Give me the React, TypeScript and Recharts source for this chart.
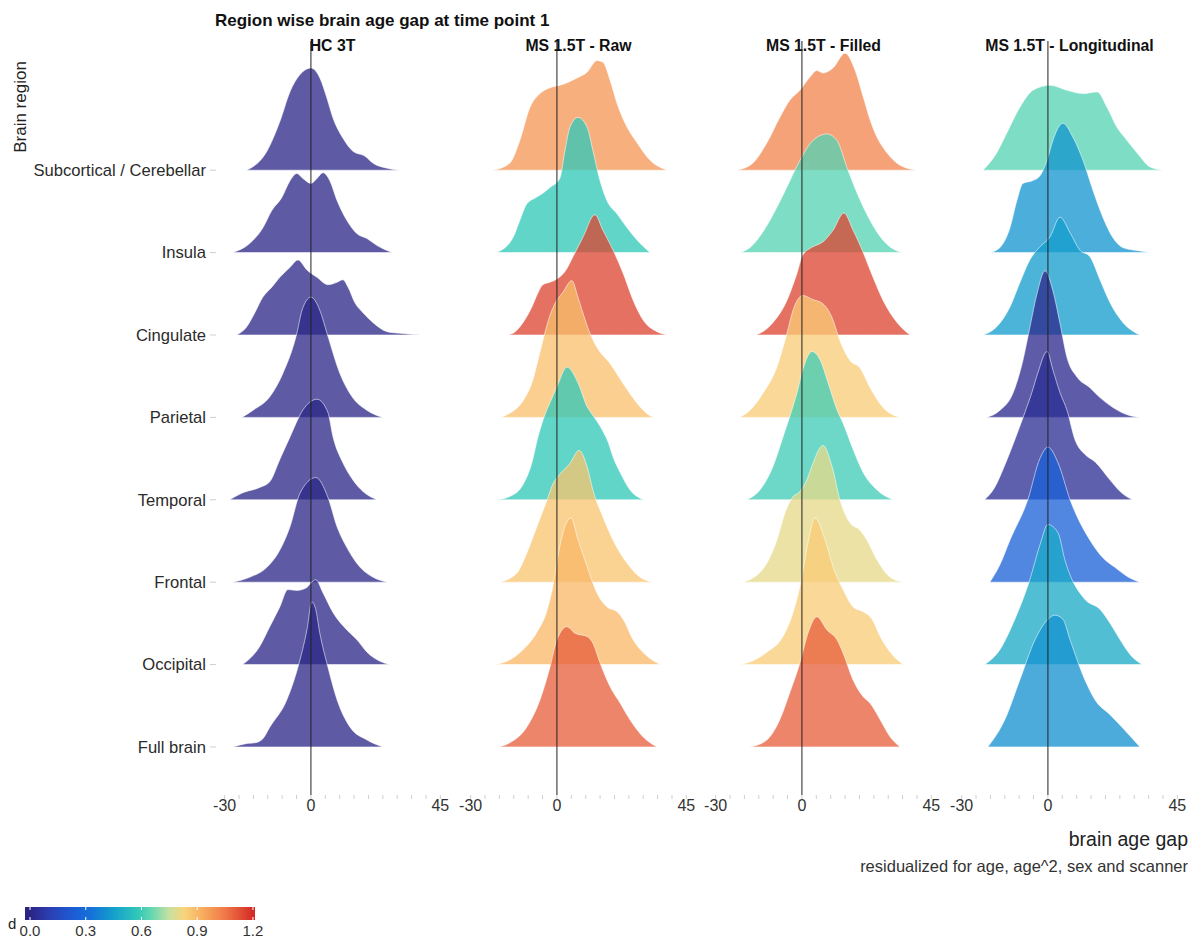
import React from 'react';
import { ComposedChart, Area, XAxis, YAxis, ReferenceLine } from 'recharts';

// ---------- data ----------
const regions = [
  'Subcortical / Cerebellar',
  'Insula',
  'Cingulate',
  'Parietal',
  'Temporal',
  'Frontal',
  'Occipital',
  'Full brain',
];

const facets = ['HC 3T', 'MS 1.5T - Raw', 'MS 1.5T - Filled', 'MS 1.5T - Longitudinal'];

// effect size d per region (top to bottom)
const dHC = [0.01, 0.01, 0.01, 0.01, 0.01, 0.01, 0.01, 0.01];
const dRaw = [0.98, 0.58, 1.15, 0.88, 0.58, 0.87, 0.9, 1.1];
const dFilled = [1.02, 0.63, 1.15, 0.85, 0.6, 0.8, 0.85, 1.1];
const dLong = [0.63, 0.42, 0.44, 0.02, 0.04, 0.25, 0.48, 0.41];

type Pt = [number, number]; // [brain age gap, ridge height]

const hcRidges: Pt[][] = [
  [[-22.3, 0], [-15.3, 0.23], [-10.8, 0.59], [-7.3, 0.95], [-3.8, 1.16], [0, 1.24], [3.1, 1.12], [5.6, 0.87], [7.7, 0.63], [11.1, 0.39], [14.6, 0.23], [18.8, 0.17], [21.6, 0.085], [26.5, 0.024], [31, 0]],
  [[-27.2, 0], [-21.3, 0.11], [-16.7, 0.3], [-13.6, 0.51], [-10.1, 0.67], [-7.3, 0.87], [-4.9, 0.96], [-2.8, 0.9], [0, 0.84], [2.1, 0.9], [4.2, 0.97], [6.6, 0.87], [9.1, 0.63], [12.5, 0.39], [16, 0.23], [19.5, 0.17], [23, 0.085], [28.2, 0]],
  [[-25.8, 0], [-22.3, 0.1], [-19.5, 0.27], [-16.7, 0.46], [-13.6, 0.58], [-10.8, 0.7], [-7.3, 0.82], [-4.5, 0.91], [-1.4, 0.79], [2.1, 0.7], [5.9, 0.61], [9.1, 0.64], [11.1, 0.67], [12.9, 0.58], [15.3, 0.39], [18.1, 0.27], [21.6, 0.15], [26.5, 0.04], [31, 0.02], [38, 0]],
  [[-24, 0], [-20.2, 0.085], [-14.3, 0.25], [-9.8, 0.53], [-4.9, 1.02], [-3.1, 1.3], [0, 1.46], [3.1, 1.3], [5.6, 1.02], [10.1, 0.53], [14.3, 0.25], [19.5, 0.085], [25, 0]],
  [[-28.2, 0], [-23.7, 0.085], [-17.8, 0.15], [-14.3, 0.22], [-10.8, 0.49], [-7.3, 0.76], [-2.8, 1.09], [2.1, 1.22], [5.9, 1.06], [7.7, 0.76], [11.1, 0.45], [14.6, 0.24], [18.1, 0.1], [23, 0]],
  [[-27.2, 0], [-21.3, 0.06], [-15.3, 0.18], [-10.8, 0.39], [-7.3, 0.67], [-3.8, 1.08], [1.7, 1.27], [5.9, 1.03], [9.1, 0.67], [12.5, 0.42], [17.1, 0.18], [21.6, 0.06], [26.5, 0]],
  [[-23.7, 0], [-17.8, 0.22], [-14.3, 0.46], [-10.8, 0.7], [-8.0, 0.91], [-4.9, 0.9], [-1.7, 0.93], [1.7, 1.03], [4.2, 0.87], [7.7, 0.63], [12.5, 0.42], [16, 0.3], [19.5, 0.15], [24, 0.04], [27.5, 0]],
  [[-27.2, 0], [-22.6, 0.04], [-19.5, 0.05], [-16.7, 0.1], [-14.3, 0.24], [-8.4, 0.57], [-4.5, 0.97], [-1.4, 1.42], [0.3, 1.76], [1.6, 1.68], [3.1, 1.38], [5.9, 0.97], [9.1, 0.57], [13.6, 0.24], [19.5, 0.085], [25, 0]],
];

const rawRidges: Pt[][] = [
  [[-22.3, 0], [-16.4, 0.085], [-12.9, 0.36], [-9.4, 0.76], [-5.9, 0.93], [-2.4, 1.0], [1.0, 1.03], [7.0, 1.12], [10.5, 1.19], [13.9, 1.33], [16.0, 1.31], [18.5, 1.09], [20.9, 0.81], [24.4, 0.52], [27.9, 0.33], [32.4, 0.12], [38.3, 0]],
  [[-21, 0], [-15.3, 0.18], [-12.9, 0.39], [-10.5, 0.59], [-7.7, 0.66], [-4.9, 0.72], [-2.4, 0.79], [1.0, 0.9], [2.8, 1.24], [4.5, 1.52], [7.3, 1.64], [10.5, 1.52], [12.5, 1.24], [15, 0.87], [17.4, 0.63], [20.9, 0.47], [24.4, 0.3], [27.9, 0.15], [32.4, 0]],
  [[-17, 0], [-15.3, 0.02], [-11.8, 0.15], [-8.7, 0.34], [-6.6, 0.51], [-4.9, 0.61], [-2.4, 0.64], [0, 0.68], [2.8, 0.77], [5.6, 0.95], [9.1, 1.19], [13.2, 1.46], [16, 1.27], [19.5, 1.03], [23, 0.75], [26.5, 0.42], [30, 0.18], [34.8, 0.04], [38.3, 0]],
  [[-19.5, 0], [-16.4, 0.05], [-11.8, 0.2], [-8.4, 0.45], [-6.6, 0.69], [-4.9, 0.93], [-2.4, 1.24], [-0.7, 1.38], [2.1, 1.52], [5.2, 1.66], [7.3, 1.46], [9.1, 1.26], [11.5, 1.02], [13.9, 0.85], [18.5, 0.65], [23, 0.41], [27.9, 0.17], [32.4, 0.02], [34, 0]],
  [[-20.9, 0], [-16.4, 0.04], [-12.2, 0.16], [-8.7, 0.45], [-6.6, 0.76], [-4.2, 1.03], [-2.4, 1.18], [0, 1.37], [3.5, 1.61], [7.3, 1.42], [10.5, 1.13], [12.2, 1.04], [15.7, 0.85], [17.8, 0.7], [19.5, 0.52], [22, 0.33], [25.4, 0.12], [28.9, 0.02], [30.5, 0]],
  [[-19.9, 0], [-13.9, 0.11], [-10.5, 0.35], [-7.0, 0.67], [-3.5, 0.99], [-1.4, 1.19], [1.0, 1.31], [4.5, 1.44], [7.7, 1.6], [10.5, 1.4], [12.5, 1.12], [16, 0.79], [19.5, 0.51], [24.4, 0.23], [28.9, 0.06], [33.4, 0]],
  [[-21.9, 0], [-17.4, 0.04], [-11.8, 0.18], [-7.0, 0.39], [-3.5, 0.65], [-1.4, 0.95], [0.3, 1.31], [2.1, 1.6], [4.9, 1.78], [7.3, 1.52], [10.5, 1.19], [13.9, 0.87], [17.4, 0.7], [20.9, 0.64], [23, 0.55], [26.5, 0.3], [31.4, 0.1], [35.9, 0]],
  [[-19.9, 0], [-16.4, 0.05], [-10.5, 0.24], [-5.9, 0.57], [-2.4, 0.97], [0, 1.3], [3.5, 1.46], [6.3, 1.38], [10.5, 1.34], [12.5, 1.26], [15, 1.02], [18.5, 0.73], [22, 0.53], [25.4, 0.33], [30, 0.12], [34.8, 0]],
];

const filledRidges: Pt[][] = [
  [[-22.6, 0], [-17.1, 0.085], [-12.2, 0.33], [-7.7, 0.64], [-4.2, 0.85], [-0.7, 0.97], [2.8, 1.13], [5.2, 1.21], [7.3, 1.18], [10.8, 1.24], [15, 1.42], [18.5, 1.21], [21.3, 0.89], [23.7, 0.61], [26.1, 0.4], [29.6, 0.21], [34.1, 0.06], [40, 0]],
  [[-21.6, 0], [-18.1, 0.06], [-13.2, 0.27], [-8.7, 0.55], [-4.2, 0.87], [-0.7, 1.12], [3.8, 1.36], [8.7, 1.44], [12.2, 1.36], [15.7, 1.03], [19.2, 0.72], [23.7, 0.39], [28.2, 0.15], [33.1, 0.02], [36, 0]],
  [[-16, 0], [-13.6, 0.04], [-10.1, 0.15], [-5.2, 0.42], [-1.7, 0.75], [0.3, 0.97], [3.8, 1.07], [7.3, 1.13], [10.8, 1.27], [14.6, 1.48], [17.8, 1.27], [21.3, 1.0], [24.7, 0.7], [28.2, 0.42], [33.1, 0.15], [37.6, 0]],
  [[-21.6, 0], [-18.1, 0.085], [-13.6, 0.29], [-8.7, 0.61], [-5.2, 1.02], [-3.1, 1.3], [0.3, 1.48], [3.8, 1.43], [7.3, 1.38], [10.5, 1.21], [13.2, 0.93], [16.7, 0.69], [20.2, 0.6], [23.7, 0.36], [28.2, 0.12], [34.1, 0]],
  [[-19.2, 0], [-14.6, 0.12], [-10.1, 0.4], [-6.6, 0.76], [-3.5, 1.09], [-1.7, 1.3], [0.3, 1.58], [3.5, 1.8], [6.3, 1.7], [9.1, 1.42], [12.2, 1.09], [14.3, 0.93], [17.8, 0.61], [21.3, 0.33], [26.1, 0.12], [31.7, 0]],
  [[-20.6, 0], [-17.1, 0.05], [-12.2, 0.23], [-8.7, 0.51], [-5.9, 0.84], [-3.5, 1.02], [-0.7, 1.1], [1.7, 1.24], [3.8, 1.44], [7.3, 1.66], [10.5, 1.4], [13.2, 1.0], [16.7, 0.72], [20.2, 0.63], [22.6, 0.51], [26.1, 0.27], [30.7, 0.06], [35.2, 0]],
  [[-21.6, 0], [-18.1, 0.03], [-12.2, 0.15], [-6.6, 0.34], [-3.1, 0.63], [-0.7, 0.95], [1.0, 1.27], [2.8, 1.6], [4.5, 1.78], [8.0, 1.52], [10.8, 1.19], [14.3, 0.91], [17.8, 0.7], [21.3, 0.64], [24.4, 0.55], [27.2, 0.34], [30.7, 0.15], [35.2, 0]],
  [[-18.1, 0], [-12.2, 0.085], [-7.7, 0.33], [-4.2, 0.66], [-0.7, 1.02], [2.1, 1.38], [5.2, 1.58], [8.7, 1.42], [12.2, 1.3], [14.3, 1.14], [17.8, 0.81], [21.3, 0.61], [23.7, 0.53], [27.2, 0.33], [30.7, 0.12], [34.1, 0]],
];

const longRidges: Pt[][] = [
  [[-22.6, 0], [-17.8, 0.21], [-14.3, 0.45], [-9.8, 0.76], [-5.2, 0.97], [0.7, 1.03], [6.6, 0.97], [12.2, 0.93], [17.1, 0.95], [20.6, 0.76], [24, 0.52], [27.5, 0.36], [31, 0.21], [35.5, 0.04], [40, 0]],
  [[-20.2, 0], [-16.7, 0.06], [-13.2, 0.3], [-10.8, 0.63], [-8.7, 0.84], [-5.6, 0.87], [-2.8, 0.93], [-0.3, 1.12], [1.7, 1.36], [5.2, 1.57], [8.7, 1.4], [12.2, 1.12], [15.7, 0.75], [19.2, 0.42], [22.6, 0.18], [26.1, 0.06], [32, 0.02], [35.5, 0]],
  [[-22.6, 0], [-17.8, 0.1], [-13.2, 0.34], [-9.8, 0.63], [-6.3, 0.91], [-2.8, 1.07], [0.7, 1.19], [4.2, 1.43], [7.7, 1.24], [11.1, 1.03], [14.6, 0.95], [18.1, 0.67], [21.6, 0.39], [26.1, 0.15], [32, 0]],
  [[-21.3, 0], [-16.7, 0.085], [-12.2, 0.29], [-8.7, 0.69], [-6.3, 1.09], [-3.8, 1.5], [-1.0, 1.78], [1.7, 1.54], [4.2, 1.14], [6.6, 0.73], [10.1, 0.49], [14.6, 0.36], [18.1, 0.24], [22.6, 0.12], [28.6, 0.02], [32, 0]],
  [[-22, 0], [-18.5, 0.15], [-15, 0.42], [-11.5, 0.73], [-8, 1.06], [-5.6, 1.3], [-3.5, 1.54], [-0.3, 1.8], [1.7, 1.58], [4.2, 1.3], [6.6, 1.09], [9.4, 0.73], [12.9, 0.55], [16.4, 0.46], [21.6, 0.24], [25.1, 0.1], [29.3, 0]],
  [[-20.2, 0], [-16.7, 0.21], [-13.2, 0.51], [-7, 1.0], [-2.8, 1.5], [0, 1.64], [3.5, 1.45], [7.7, 1.0], [14.6, 0.51], [19, 0.3], [23.3, 0.18], [28, 0.06], [32, 0]],
  [[-22, 0], [-16.7, 0.18], [-11.5, 0.55], [-6.3, 1.03], [-2.8, 1.45], [0, 1.7], [3.5, 1.6], [5.9, 1.27], [12.9, 0.79], [18.1, 0.67], [21.6, 0.5], [25.1, 0.3], [28.6, 0.12], [32.8, 0]],
  [[-20.9, 0], [-15, 0.33], [-9.8, 0.81], [-4.5, 1.3], [0, 1.55], [2.4, 1.6], [5.2, 1.55], [7.7, 1.3], [12.9, 0.81], [16.4, 0.57], [21.6, 0.39], [26.8, 0.2], [32, 0]],
];

const facetRidges = [hcRidges, rawRidges, filledRidges, longRidges];
const facetD = [dHC, dRaw, dFilled, dLong];

const xLabelTicks = [-30, 0, 45];
const xMinorTicks = [-30, -25, -20, -15, -10, -5, 0, 5, 10, 15, 20, 25, 30, 35, 40, 45];
const legendTicks = [0.0, 0.3, 0.6, 0.9, 1.2];

// ---------- colour scale ----------
const colorStops: [number, string][] = [
  [0.0, '#2c2484'],
  [0.12, '#2a42b8'],
  [0.25, '#1a60d8'],
  [0.33, '#1472d8'],
  [0.45, '#14a0cc'],
  [0.58, '#30c8b8'],
  [0.66, '#6ad8b0'],
  [0.75, '#c8e0a0'],
  [0.83, '#f8d47c'],
  [0.92, '#f8b060'],
  [1.05, '#f07848'],
  [1.2, '#d42a26'],
];

function hexRgb(h: string) {
  return [parseInt(h.slice(1, 3), 16), parseInt(h.slice(3, 5), 16), parseInt(h.slice(5, 7), 16)];
}
function dColor(d: number) {
  if (d <= colorStops[0][0]) return colorStops[0][1];
  for (let i = 1; i < colorStops.length; i++) {
    const [d1, c1] = colorStops[i];
    const [d0, c0] = colorStops[i - 1];
    if (d <= d1) {
      const t = (d - d0) / (d1 - d0);
      const a = hexRgb(c0);
      const b = hexRgb(c1);
      const m = a.map((v, k) => Math.round(v + (b[k] - v) * t));
      return `rgb(${m[0]},${m[1]},${m[2]})`;
    }
  }
  return colorStops[colorStops.length - 1][1];
}

// ---------- layout ----------
const FONT = '"Liberation Sans", Arial, Helvetica, sans-serif';
const X_DOMAIN: [number, number] = [-33, 48];
const Y_DOMAIN: [number, number] = [-0.583, 8.568];
const CHART_H = 830;
const facetLeft = [0, 448, 693, 939];

function Facet({ idx }: { idx: number }) {
  const showY = idx === 0;
  const ridges = facetRidges[idx];
  const dv = facetD[idx];
  return (
    <div style={{ position: 'absolute', left: facetLeft[idx], top: 0 }}>
      <ComposedChart
        width={showY ? 447 : 245}
        height={CHART_H}
        margin={{ top: 33, right: 6, bottom: 13, left: showY ? 0 : 6 }}
      >
        <XAxis
          type="number"
          dataKey="x"
          domain={X_DOMAIN}
          allowDataOverflow
          ticks={xMinorTicks}
          interval={0}
          tickFormatter={(v: number) => (xLabelTicks.includes(v) ? String(v) : '')}
          axisLine={false}
          tickLine={{ stroke: '#cfcfcf' }}
          tickSize={4}
          tickMargin={1}
          height={30}
          tick={{ fontSize: 16, fill: '#333', fontFamily: FONT }}
        />
        <YAxis
          type="number"
          domain={Y_DOMAIN}
          allowDataOverflow
          ticks={[0, 1, 2, 3, 4, 5, 6, 7]}
          interval={0}
          hide={!showY}
          width={showY ? 208 : 0}
          axisLine={false}
          tickLine={{ stroke: '#cfcfcf' }}
          tickSize={6}
          tickMargin={4}
          tickFormatter={(v: number) => regions[7 - v]}
          tick={{ fontSize: 16.6, fill: '#2b2b2b', fontFamily: FONT }}
        />
        <ReferenceLine x={0} stroke="#222" strokeWidth={1} />
        {ridges.map((shape, i) => {
          const base = 7 - i;
          const data = shape.map(([x, h]) => ({ x, y: [base, base + h] }));
          return (
            <Area
              key={i}
              data={data}
              dataKey="y"
              type="monotone"
              fill={dColor(dv[i])}
              fillOpacity={0.76}
              stroke="#ffffff"
              strokeOpacity={0.55}
              strokeWidth={1}
              isAnimationActive={false}
              dot={false}
              activeDot={false}
            />
          );
        })}
      </ComposedChart>
    </div>
  );
}

const legendMin = -0.027;
const legendMax = 1.211;
const legendX0 = 17;
const legendX1 = 247;
const legendPx = (d: number) => legendX0 + ((d - legendMin) / (legendMax - legendMin)) * (legendX1 - legendX0);

export default function App() {
  const facetCenters = [324.5, 570.5, 815.5, 1061.5];
  return (
    <div style={{ position: 'relative', width: 1180, height: 931, fontFamily: FONT, background: '#fff' }}>
      {facets.map((f, i) => (
        <Facet key={f} idx={i} />
      ))}
      <svg
        width={1180}
        height={931}
        style={{ position: 'absolute', left: 0, top: 0, pointerEvents: 'none', fontFamily: FONT }}
      >
        <defs>
          <linearGradient id="dgrad" x1="0" x2="1" y1="0" y2="0">
            {colorStops.map(([d, c]) => (
              <stop key={d} offset={(d - legendMin) / (legendMax - legendMin)} stopColor={c} />
            ))}
          </linearGradient>
        </defs>
        <text x={207} y={18} fontSize={17} fontWeight="bold" fill="#111">
          Region wise brain age gap at time point 1
        </text>
        {facets.map((f, i) => (
          <text key={f} x={facetCenters[i]} y={42.5} fontSize={15.8} fontWeight="bold" fill="#111" textAnchor="middle">
            {f}
          </text>
        ))}
        <text x={18} y={99} fontSize={17} fill="#222" textAnchor="middle" transform="rotate(-90 18 99)">
          Brain region
        </text>
        <text x={1180} y={838} fontSize={19.5} fill="#222" textAnchor="end">
          brain age gap
        </text>
        <text x={1180} y={864} fontSize={16.5} fill="#333" textAnchor="end">
          residualized for age, age^2, sex and scanner
        </text>
        {/* colour legend */}
        <rect x={legendX0} y={899} width={legendX1 - legendX0} height={13} fill="url(#dgrad)" />
        {legendTicks.map((t) => (
          <g key={t}>
            <line x1={legendPx(t)} x2={legendPx(t)} y1={899} y2={902} stroke="#fff" strokeWidth={1} />
            <line x1={legendPx(t)} x2={legendPx(t)} y1={909} y2={912} stroke="#fff" strokeWidth={1} />
            <text x={legendPx(t)} y={928} fontSize={15} fill="#333" textAnchor="middle">
              {t.toFixed(1)}
            </text>
          </g>
        ))}
        <text x={0} y={921} fontSize={15} fill="#222">
          d
        </text>
      </svg>
    </div>
  );
}
